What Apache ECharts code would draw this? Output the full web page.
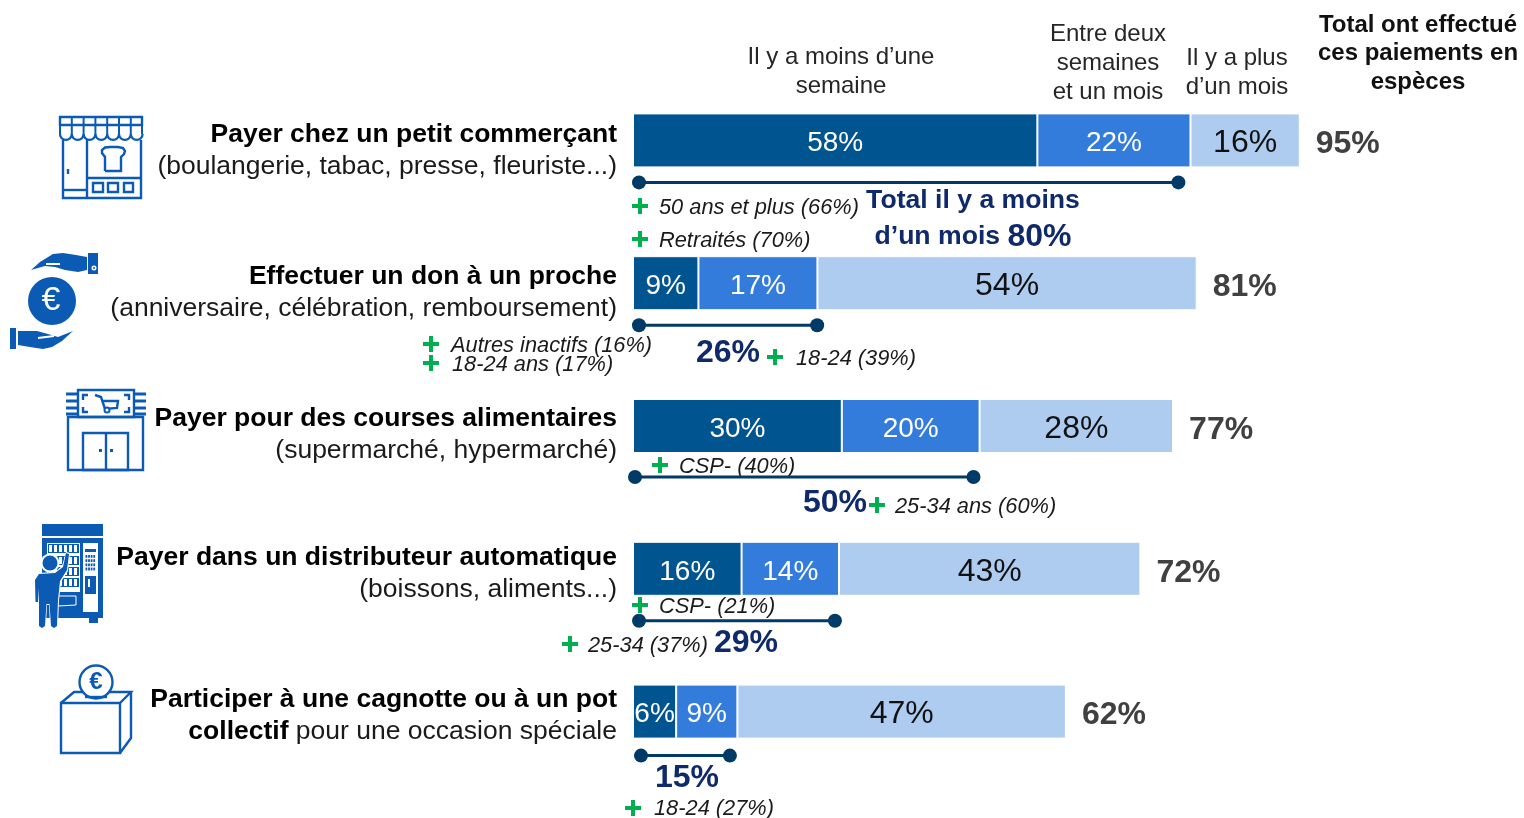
<!DOCTYPE html>
<html><head><meta charset="utf-8">
<style>html,body{margin:0;padding:0;background:#fff}#c{width:1524px;height:818px}</style>
<script src="https://cdn.jsdelivr.net/npm/echarts@6/dist/echarts.min.js"></script>
</head><body><div id="c"></div>
<script>
const categories = [
  '{b|Payer chez un petit commerçant}\n{n|(boulangerie, tabac, presse, fleuriste...)}',
  '{b|Effectuer un don à un proche}\n{n|(anniversaire, célébration, remboursement)}',
  '{b|Payer pour des courses alimentaires}\n{n|(supermarché, hypermarché)}',
  '{b|Payer dans un distributeur automatique}\n{n|(boissons, aliments...)}',
  '{b|Participer à une cagnotte ou à un pot}\n{b|collectif} {n|pour une occasion spéciale}'
];
const seriesNames = ['Il y a moins d’une\nsemaine', 'Entre deux\nsemaines\net un mois', 'Il y a plus\nd’un mois'];
const lessThanWeek = [58.1, 9.4, 30.0, 15.6, 6.2];
const twoWeeksToMonth = [22.0, 17.1, 19.8, 14.0, 8.8];
const moreThanMonth = [15.7, 54.49, 27.8, 43.3, 47.2];
const totalCash = [95, 81, 77, 72, 62];
const totalCashTitle = 'Total ont effectué\nces paiements en\nespèces';
const underMonth = [80, 26, 50, 29, 15];
const underMonthTitle = ['Total il y a moins', 'd’un mois '];
const notes = ['50 ans et plus (66%)', 'Retraités (70%)', 'Autres inactifs (16%)', '18-24 ans (17%)', '18-24 (39%)',
  'CSP- (40%)', '25-34 ans (60%)', 'CSP- (21%)', '25-34 (37%)', '18-24 (27%)'];

/* ---- layout and styles (not data) ---- */
const FONT = '"Liberation Sans", Arial, sans-serif';
const BLUE = '#0B5AB4', NAVY = '#0F2A6B', DOT = '#003A66', GREEN = '#00B050';
const notePos = [[659,208,640,206],[659,241,640,239],[451,346,431,344],[452,365,431,363],[796,359,775,357],
  [679,467,660,465],[895,507,877,505],[659,607,640,605],[588,646,570,644],[654,809,633,808]];
const labelShift = [10, 9, 9, 5, 4];
const bracketLayout = [ // start px, end px offset, y offset
  [6,-11.4,42],[6,3.2,42],[2,-7.5,51],[6,0.1,52],[8,-7.5,44]];
const pctPos = [null,[728,353],[835,503],[746,643],[687,778]];

const gEls = [];
const stroke = {stroke:BLUE, lineWidth:2.4, fill:'none'};
const R=(x,y,width,height)=>gEls.push({type:'rect',shape:{x,y,width,height},style:{...stroke}});
const FR=(x,y,width,height,fill=BLUE)=>gEls.push({type:'rect',shape:{x,y,width,height},style:{fill}});
const L=(points,lw=2.4,color=BLUE)=>gEls.push({type:'polyline',shape:{points},style:{stroke:color,lineWidth:lw,fill:'none'}});
const P=(points,fill=BLUE)=>gEls.push({type:'polygon',shape:{points},style:{fill}});
const C=(cx,cy,r,style)=>gEls.push({type:'circle',shape:{cx,cy,r},style});
const T=(x,y,text,font,fill,align='left')=>gEls.push({type:'text',x,y,style:{text,font,fill,align,verticalAlign:'middle'}});

/* shop icon */
R(60,117,82,8);
L([[63,140],[63,198],[141,198],[141,140]]);
for(let i=0;i<7;i++){const x=60+i*11.8;
  L([[x,117],[x,134]],2);
  gEls.push({type:'arc',shape:{cx:x+5.9,cy:134,r:5.9,startAngle:0,endAngle:Math.PI,clockwise:true},style:{stroke:BLUE,lineWidth:2.2,fill:'none'}});
}
L([[142,117],[142,134]],2);
L([[87,140],[87,198]]); L([[63,190],[87,190]]); L([[87,178],[141,178]]);
L([[68,169],[68,174]]);
R(93,183,10,9);R(108,183,10,9);R(124,183,9,9);
L([[105,171],[105,157],[102,153],[102,150],[105,147.5],[110,147],[118,147],[123,148],[125,151],[124,154],[121,157],[121,171],[105,171]]);

/* hands & euro icon */
C(52,301,24,{fill:BLUE});
T(51,301,'€','34px '+FONT,'#fff','center');
P([[31,270],[40,262],[53,254],[63,253],[76,255],[87,257],[87,270],[78,272],[65,270],[55,267],[45,266],[38,268]]);
FR(46,263,14,2,'#fff');
FR(88,253,10,21);C(94,268,2.5,{fill:'#fff'});C(94,268,1,{fill:BLUE});
FR(10,328,6,21);
P([[18,331],[37,331],[48,334],[58,337],[73,331],[62,341],[52,347],[43,349],[30,347],[18,345]]);
L([[38,338],[54,336]],2,'#fff');

/* supermarket icon */
R(78,390,56,27);
[394,401,408,414].forEach(y=>{L([[66,y],[78,y]],3);L([[134,y],[146,y]],3);});
R(68,417,75,53);R(83,433,45,37);L([[106,433],[106,470]]);
FR(99,449,3,3);FR(110,449,3,3);
L([[95,395],[101,397],[105,409],[117,408],[118,401],[102,401]]);
C(107,410,2.5,{fill:'#fff',stroke:BLUE,lineWidth:2});
L([[88,395],[83,395],[83,400]]);L([[83,407],[83,412],[88,412]]);
L([[124,395],[129,395],[129,400]]);L([[129,407],[129,412],[124,412]]);

/* vending machine icon */
FR(42,524,61,12);FR(42,538,61,80);FR(89,618,9,5);
FR(47,543,33,49,'#fff');
[546,558,569,580].forEach(y=>{
  FR(48,y-2,31,9);
  for(let i=0;i<6;i++)FR(49+i*5,y-1,3,7,'#fff');
});
FR(83,543,15,69,'#fff');FR(85,549,11,3);
for(let r=0;r<4;r++)for(let c=0;c<4;c++)FR(85.5+c*2.6,555+r*4.2,1.8,2.8);
FR(85,576,11,18);FR(88,579,2,8,'#fff');
L([[58,596],[76,596],[76,605],[58,606]],1,'#fff');
C(50,563,9.5,{fill:'#fff'});C(50,563,7.5,{fill:BLUE});
P([[34,580],[38,573],[55,572],[62,566],[66,552],[70,553],[68,571],[61,582],[59,600],[58,626],[54,629],[50,626],[49,605],[47,605],[46,626],[42,629],[38,626],[39,590],[38,603],[35,603]],'#fff');
P([[35,580],[39,574],[55,573],[63,567],[66,553],[69,554],[67,570],[60,581],[58,600],[57,626],[54,628],[51,626],[49.5,604],[46.5,604],[45,626],[42,628],[39,626],[39,588],[38,602],[35.5,602]],BLUE);

/* pot icon */
R(61,703,59,50);
L([[61,703],[74,692],[84,692]]);L([[107,692],[131,692],[120,703]]);L([[131,692],[131,738],[120,753]]);
C(96,682,16.5,{fill:'#fff',stroke:BLUE,lineWidth:2.4});
T(96,682,'€','bold 24px '+FONT,BLUE,'center');
L([[85,697],[107,697]],2.4);

/* headers */
const hdrFont='24px '+FONT;
[[841,72],[1108,63.5],[1237,73]].forEach((p,i)=>gEls.push({type:'text',x:p[0],y:p[1],
  style:{text:seriesNames[i],font:hdrFont,fill:'#262626',align:'center',verticalAlign:'middle',lineHeight:29}}));
gEls.push({type:'text',x:1418,y:53.5,style:{text:totalCashTitle,font:'bold 24px '+FONT,fill:'#111',align:'center',verticalAlign:'middle',lineHeight:28.5}});

/* notes */
notes.forEach((n,i)=>{const [tx,ty,px,py]=notePos[i];
  T(tx,ty,n,'italic 21.8px '+FONT,'#1a1a1a');
  FR(px-8,py-2,16,4,GREEN);FR(px-2,py-8,4,16,GREEN);
});

/* under-a-month totals */
T(973,201,underMonthTitle[0],'bold 26.6px '+FONT,NAVY,'center');
gEls.push({type:'text',x:973,y:237,style:{text:'{a|'+underMonthTitle[1]+'}{b|'+underMonth[0]+'%}',align:'center',verticalAlign:'middle',
  rich:{a:{font:'bold 26.6px '+FONT,fill:NAVY,color:NAVY},b:{font:'bold 32px '+FONT,fill:NAVY,color:NAVY}}}});
pctPos.forEach((p,i)=>{if(p)T(p[0],p[1],underMonth[i]+'%','bold 32px '+FONT,NAVY,'center');});

const mkBar=(name,data,color,labelColor,size)=>({
  name:name.replace(/\n/g,' '),type:'bar',stack:'t',data,barWidth:54,
  itemStyle:{color,borderColor:'#fff',borderWidth:1},
  label:{show:true,position:'inside',offset:[0,3],formatter:p=>Math.round(p.value)+'%',color:labelColor,fontFamily:FONT,fontSize:size},
  emphasis:{disabled:true},silent:true,animation:false});

const option={
  animation:false,
  grid:{left:633,top:69,width:696,height:714,containLabel:false},
  xAxis:{type:'value',min:0,max:100,show:false},
  yAxis:{type:'category',inverse:true,
    data:categories.map((value,i)=>({value,textStyle:{padding:[labelShift[i]*2,0,0,0]}})),
    axisLine:{show:false},axisTick:{show:false},
    axisLabel:{margin:16,align:'right',fontFamily:FONT,fontSize:26.5,color:'#111',lineHeight:32,
      rich:{b:{fontFamily:FONT,fontSize:26.5,fontWeight:'bold',color:'#000',lineHeight:32},
            n:{fontFamily:FONT,fontSize:26.5,color:'#1a1a1a',lineHeight:32}}}},
  graphic:{elements:gEls},
  series:[
    mkBar(seriesNames[0],lessThanWeek,'#00548F','#fff',28),
    mkBar(seriesNames[1],twoWeeksToMonth,'#337CDB','#fff',28),
    mkBar(seriesNames[2],moreThanMonth,'#AECCF0','#111',32),
    {type:'custom',silent:true,animation:false,z:5,
      data:underMonth.map((v,i)=>[v,i]),
      encode:{x:0,y:1},
      renderItem(params,api){
        const i=api.value(1),l=bracketLayout[i],a=api.coord([0,i]),b=api.coord([api.value(0),i]);
        const x1=a[0]+l[0],x2=b[0]+l[1],y=a[1]+l[2],s={fill:DOT};
        return {type:'group',children:[
          {type:'rect',shape:{x:x1,y:y-1.5,width:x2-x1,height:3},style:s},
          {type:'circle',shape:{cx:x1,cy:y,r:7},style:s},
          {type:'circle',shape:{cx:x2,cy:y,r:7},style:s}]};
      }},
    {type:'custom',silent:true,animation:false,z:5,
      data:totalCash.map((v,i)=>[lessThanWeek[i]+twoWeeksToMonth[i]+moreThanMonth[i],i,v]),
      encode:{x:0,y:1},
      renderItem(params,api){
        const p=api.coord([api.value(0),api.value(1)]);
        return {type:'text',style:{x:p[0]+16,y:p[1]+4,text:api.value(2)+'%',font:'bold 32px '+FONT,fill:'#404040',align:'left',verticalAlign:'middle'}};
      }}
  ]};
echarts.init(document.getElementById('c'),null,{renderer:'canvas'}).setOption(option);
</script></body></html>
